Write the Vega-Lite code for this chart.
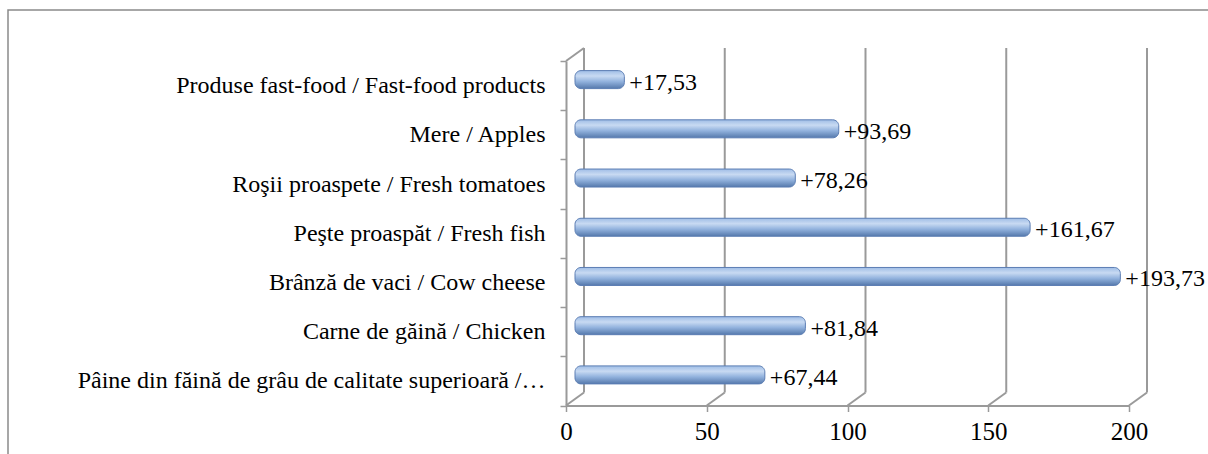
{
  "$schema": "https://vega.github.io/schema/vega-lite/v6.json",
  "width": 563,
  "height": 344.5,
  "autosize": {"type": "none"},
  "padding": {"left": 566, "top": 61, "right": 79, "bottom": 48.5},
  "background": "white",
  "config": {
    "view": {"stroke": null},
    "font": "Liberation Serif",
    "axis": {
      "labelFont": "Liberation Serif",
      "labelColor": "#000000",
      "title": null,
      "grid": false,
      "tickSize": 6,
      "tickColor": "#9a9a9a",
      "tickWidth": 1.5,
      "domainColor": "#9a9a9a",
      "domainWidth": 2
    },
    "axisY": {"labelFontSize": 24, "labelPadding": 15, "labelLimit": 520, "tickBand": "extent"},
    "axisX": {"labelFontSize": 25, "labelPadding": 8, "labelFlush": false}
  },
  "datasets": {
    "bars": [
      {"cat": "Produse fast-food / Fast-food products", "value": 17.53, "label": "+17,53"},
      {"cat": "Mere / Apples", "value": 93.69, "label": "+93,69"},
      {"cat": "Roşii proaspete / Fresh tomatoes", "value": 78.26, "label": "+78,26"},
      {"cat": "Peşte proaspăt / Fresh fish", "value": 161.67, "label": "+161,67"},
      {"cat": "Brânză de vaci / Cow cheese", "value": 193.73, "label": "+193,73"},
      {"cat": "Carne de găină / Chicken", "value": 81.84, "label": "+81,84"},
      {"cat": "Pâine din făină de grâu de calitate superioară /…", "value": 67.44, "label": "+67,44"}
    ],
    "grid": [{"v": 0}, {"v": 50}, {"v": 100}, {"v": 150}, {"v": 200}],
    "frame": [{"f": 1}]
  },
  "layer": [
    {
      "data": {"name": "frame"},
      "mark": {"type": "rect", "fill": null, "stroke": "#8a8a8a", "strokeWidth": 1.5, "xOffset": -558, "yOffset": -51, "x2Offset": 200, "y2Offset": 200},
      "encoding": {
        "x": {"value": 0},
        "x2": {"value": "width"},
        "y": {"value": 0},
        "y2": {"value": "height"}
      }
    },
    {
      "data": {"name": "grid"},
      "mark": {"type": "rule", "color": "#9a9a9a", "strokeWidth": 2, "xOffset": 18, "yOffset": -13, "y2Offset": -13},
      "encoding": {
        "x": {
          "field": "v", "type": "quantitative",
          "scale": {"domain": [0, 200], "nice": false},
          "axis": {"values": [0, 50, 100, 150, 200]}
        },
        "y": {"value": 0},
        "y2": {"value": "height"}
      }
    },
    {
      "data": {"name": "grid"},
      "mark": {"type": "rule", "color": "#9a9a9a", "strokeWidth": 2, "x2Offset": 18, "y2Offset": -13},
      "encoding": {
        "x": {"field": "v", "type": "quantitative"},
        "x2": {"field": "v"},
        "y": {"value": "height"},
        "y2": {"value": "height"}
      }
    },
    {
      "data": {"name": "grid"},
      "transform": [{"filter": "datum.v == 0"}],
      "mark": {"type": "rule", "color": "#9a9a9a", "strokeWidth": 2, "x2Offset": 18, "y2Offset": -13},
      "encoding": {
        "x": {"field": "v", "type": "quantitative"},
        "x2": {"field": "v"},
        "y": {"value": 0},
        "y2": {"value": 0}
      }
    },
    {
      "data": {"name": "bars"},
      "mark": {
        "type": "bar",
        "size": 18,
        "xOffset": 9,
        "x2Offset": 9,
        "yOffset": -6,
        "cornerRadius": 6,
        "stroke": "#5b7db3",
        "strokeWidth": 1,
        "color": {
          "gradient": "linear",
          "x1": 0, "y1": 0, "x2": 0, "y2": 1,
          "stops": [
            {"offset": 0, "color": "#9fbde6"},
            {"offset": 0.3, "color": "#c8daf2"},
            {"offset": 0.6, "color": "#93b3de"},
            {"offset": 1, "color": "#5579ac"}
          ]
        }
      },
      "encoding": {
        "y": {
          "field": "cat", "type": "nominal", "sort": null,
          "scale": {"paddingInner": 0, "paddingOuter": 0}
        },
        "x": {"field": "value", "type": "quantitative"},
        "x2": {"datum": 0}
      }
    },
    {
      "data": {"name": "bars"},
      "mark": {"type": "text", "align": "left", "baseline": "middle", "dx": 14, "dy": -3, "fontSize": 24, "font": "Liberation Serif", "color": "#000000"},
      "encoding": {
        "y": {"field": "cat", "type": "nominal", "sort": null},
        "x": {"field": "value", "type": "quantitative"},
        "text": {"field": "label"}
      }
    }
  ]
}
